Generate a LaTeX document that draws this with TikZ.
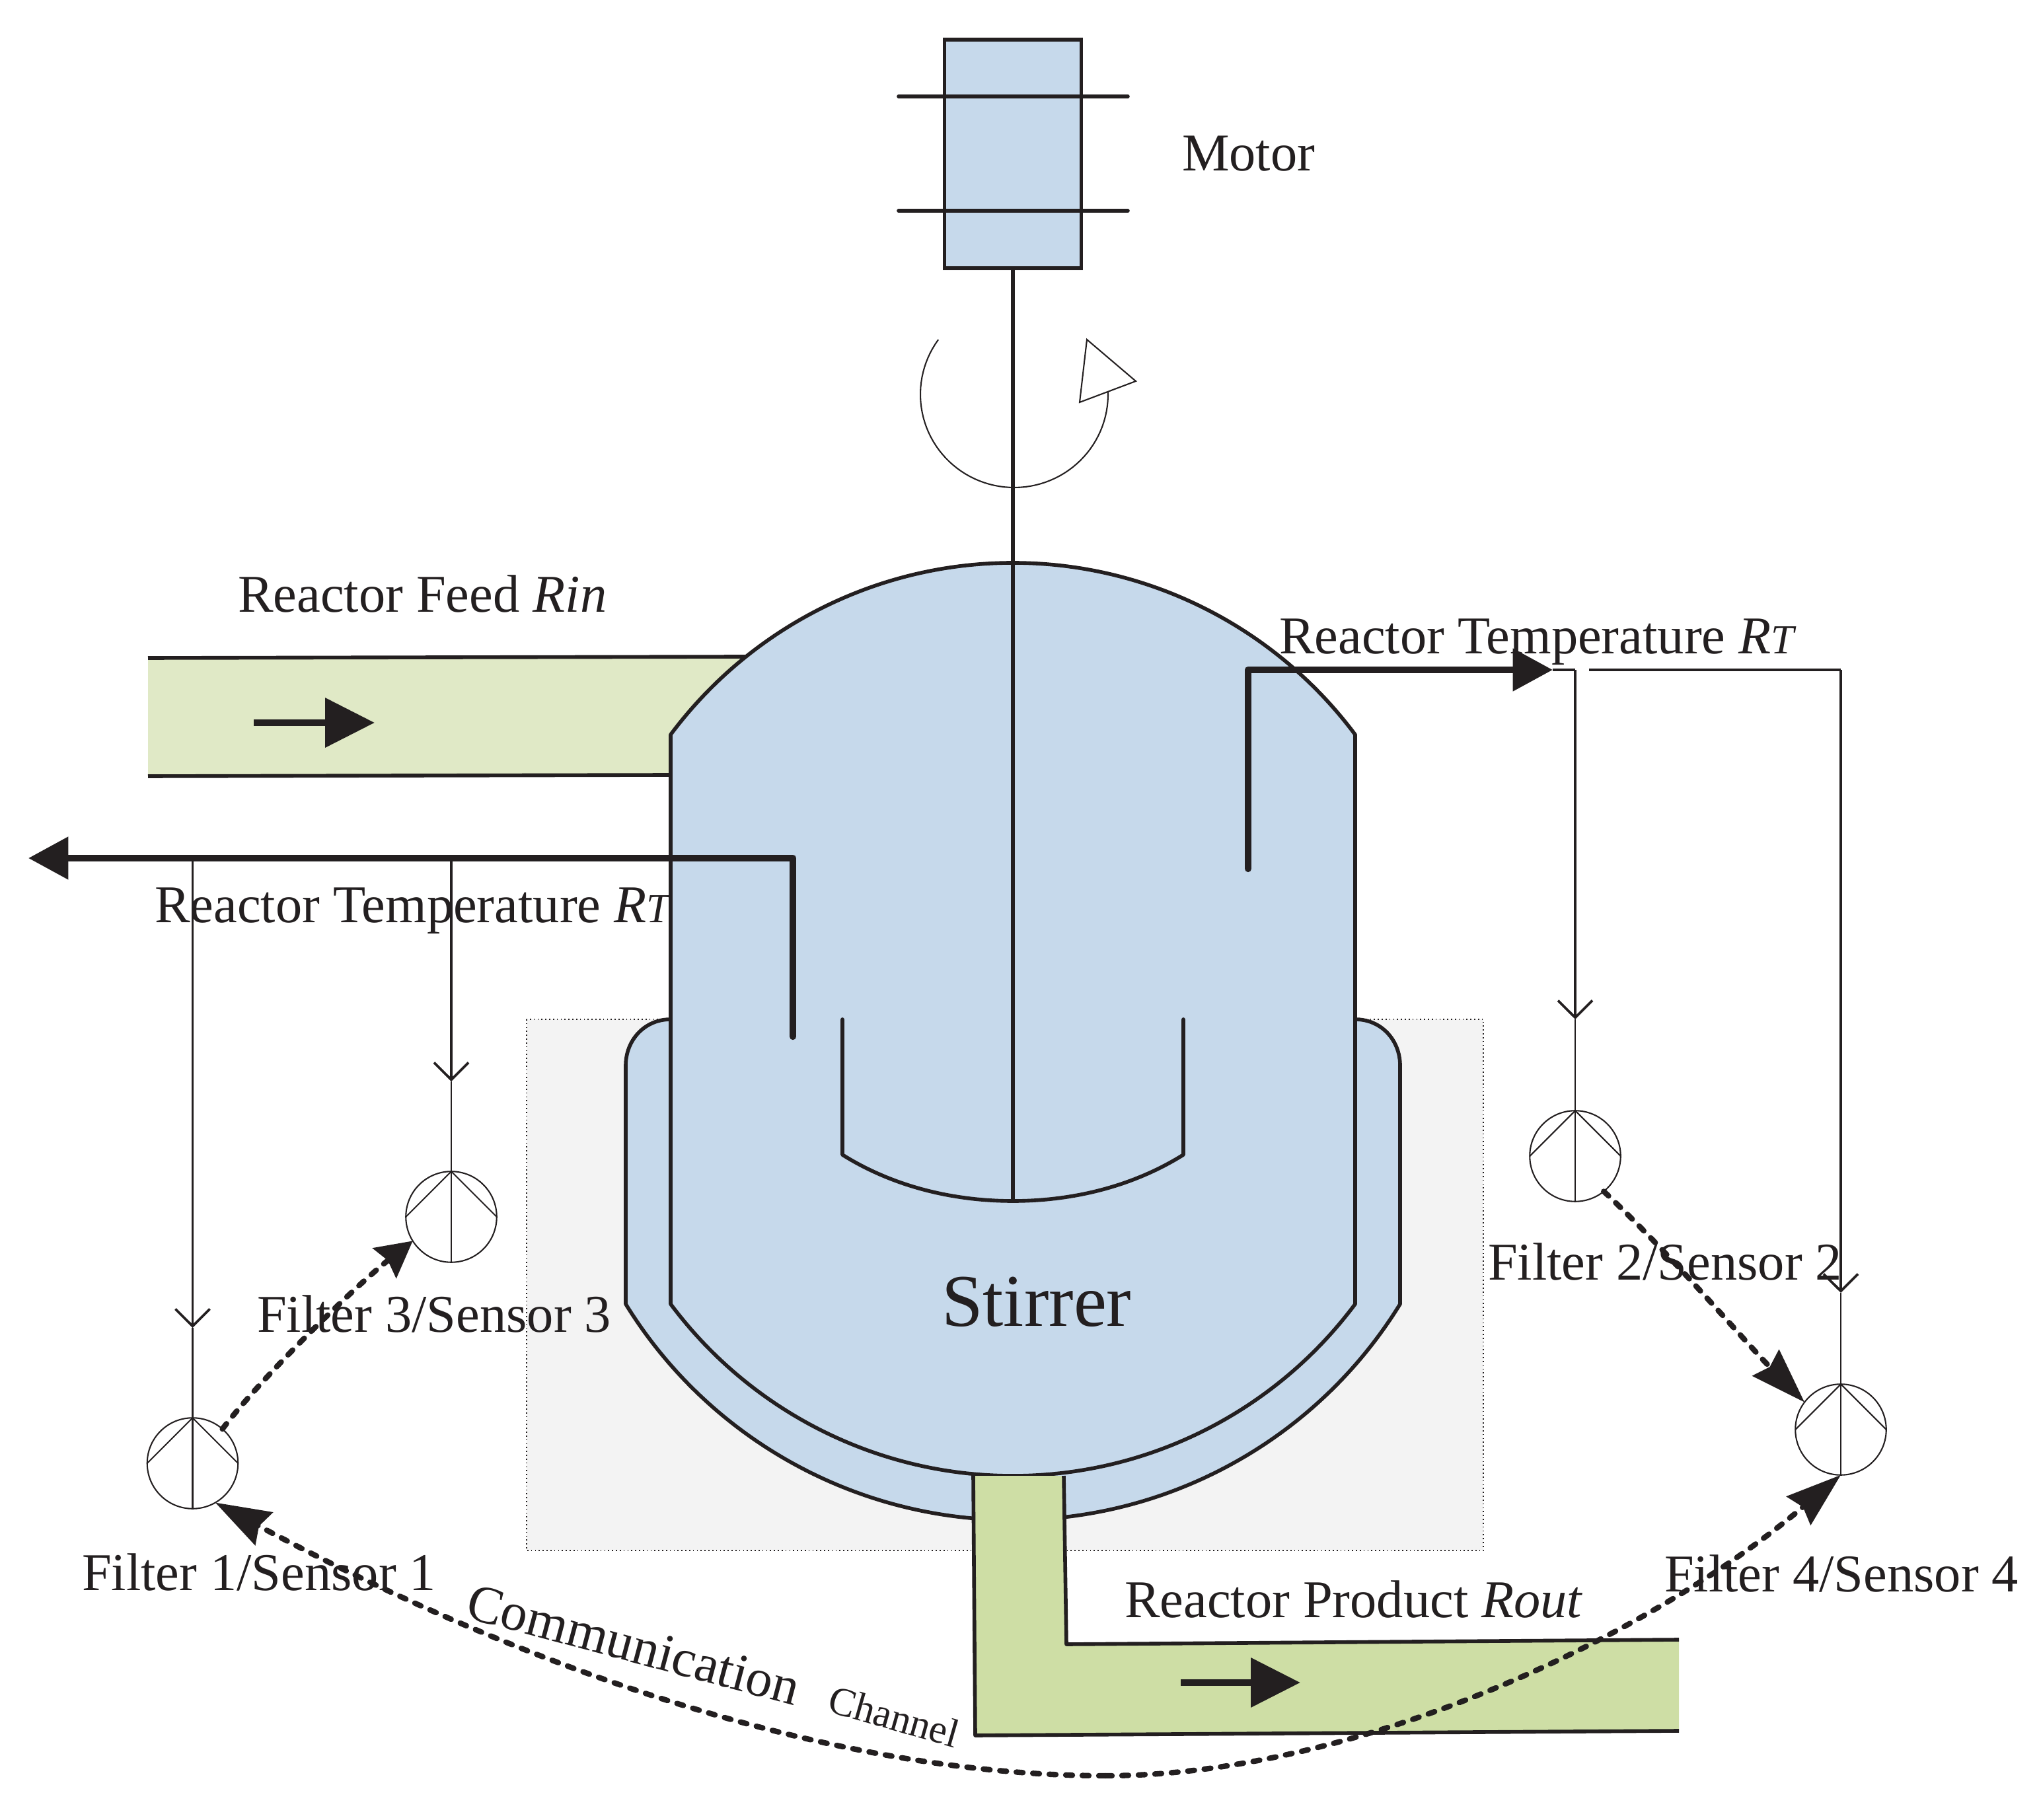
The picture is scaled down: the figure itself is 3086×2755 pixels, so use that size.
\documentclass[tikz,border=0pt]{standalone}
\usepackage{fontspec}
\setmainfont{Liberation Serif}
\usetikzlibrary{arrows.meta}
\definecolor{ink}{HTML}{231F20}
\definecolor{vesselblue}{HTML}{C6D9EB}
\definecolor{feedgreen}{HTML}{E0E9C6}
\definecolor{prodgreen}{HTML}{CEDEA5}
\definecolor{boxgrey}{HTML}{F3F3F3}
\tikzset{
  x=0.24pt, y=-0.24pt,
  every path/.style={line join=miter},
  wall/.style={draw=ink,line width=1.35pt,line join=round,line cap=round},
  fine/.style={draw=ink,line width=0.5pt},
  signal/.style={draw=ink,line width=0.9pt,-{Straight Barb[length=6.2pt,width=12.5pt,line width=0.9pt]}},
  thick arrow/.style={draw=ink,line width=2.5pt,line cap=round,-{Triangle[length=14.5pt,width=15pt]}},
  flow arrow/.style={draw=ink,line width=2.6pt,-{Triangle[length=18pt,width=17.5pt]}},
  sensor/.style={circle,draw=ink,line width=0.5pt,minimum size=33pt,inner sep=0pt,outer sep=0pt},
  link/.style={draw=ink,line width=2pt,dash pattern=on 2.4pt off 3.6pt,line cap=round},
  short head/.style={-{Stealth[length=13pt,width=13.7pt,inset=1.5pt]}},
  long head/.style={-{Stealth[length=20pt,width=13.4pt,inset=2pt]}},
  label/.style={anchor=base west,inner sep=0pt,outer sep=0pt,text=ink,font=\fontsize{19.3}{22}\selectfont},
}
\newcommand{\smallT}{{\fontsize{15}{15}\selectfont\textit{T}}}
\begin{document}
\begin{tikzpicture}
\useasboundingbox (0,0) rectangle (3086,2755);
% base plate
\draw[fill=boxgrey,draw=ink,line width=0.4pt,densely dotted] (797,1543) rectangle (2245,2347);
% feed pipe
\fill[feedgreen] (224,996) -- (1128,994) -- (1100,1174) -- (224,1175) -- cycle;
\draw[wall,line cap=butt] (224,996) -- (1128,994);
\draw[wall,line cap=butt] (224,1175) -- (1015,1173);
% jacket
\path[fill=vesselblue,wall] (1015,1543) .. controls (975,1543) and (947,1575) .. (947,1613)
  -- (947,1974) .. controls (1072,2177) and (1294,2301) .. (1533,2301)
  .. controls (1772,2301) and (1994,2177) .. (2119,1974)
  -- (2119,1613) .. controls (2119,1575) and (2091,1543) .. (2051,1543) -- cycle;
% vessel
\path[fill=vesselblue,wall] (1015,1974) -- (1015,1112)
  .. controls (1137,948.5) and (1329,852) .. (1533,852)
  .. controls (1737,852) and (1929,948.5) .. (2051,1112)
  -- (2051,1974)
  .. controls (1929,2137.5) and (1737,2234) .. (1533,2234)
  .. controls (1329,2234) and (1137,2137.5) .. (1015,1974) -- cycle;
% product pipe
\fill[prodgreen] (1473,2234) -- (1610,2234) -- (1614,2489) -- (2541,2482) -- (2541,2620) -- (1476,2627) -- cycle;
\draw[wall,line cap=butt] (1473,2234) -- (1476,2627) -- (2541,2620);
\draw[wall,line cap=butt] (1610,2234) -- (1614,2489) -- (2541,2482);
% motor
\node[draw=ink,fill=vesselblue,line width=1.35pt,minimum width=49.7pt,minimum height=83pt,inner sep=0pt,outer sep=0pt] (motor) at (1533,233) {};
\draw[wall] (1360,146) -- (1707,146);
\draw[wall] (1360,319) -- (1707,319);
\coordinate (hub) at (1533,1818);
\draw[wall] (motor.south) -- (hub);
% stirrer blade
\draw[wall] (1275,1543) -- (1275,1748) .. controls (1350,1795) and (1440,1818) .. (hub)
  .. controls (1626,1818) and (1716,1795) .. (1791,1748) -- (1791,1543);
% rotation mark
\draw[fine] plot[domain=216:-2,samples=70] ({1535+142*cos(\x)},{597+141*sin(\x)});
\draw[fine,fill=white] (1645,514) -- (1719,577) -- (1634,609) -- cycle;
% sensors
\node[sensor] (s1) at (291.5,2215) {};
\node[sensor] (s2) at (2384,1750) {};
\node[sensor] (s3) at (683,1842) {};
\node[sensor] (s4) at (2786,2164) {};
\foreach \s in {s1,s2,s3,s4}{
  \draw[fine] (\s.west) -- (\s.north) -- (\s.east);
  \draw[fine] (\s.north) -- (\s.south);
}
% temperature lines
\coordinate (leftIn) at (1200,1569);
\coordinate (leftBend) at (1200,1299);
\coordinate (leftEnd) at (43,1299);
\coordinate (rightIn) at (1889,1315);
\coordinate (rightBend) at (1889,1014);
\coordinate (rightEnd) at (2350,1014);
\coordinate (tap1) at (291.5,1299);
\coordinate (tap3) at (683,1299);
\coordinate (tap2) at (2384,1014);
\coordinate (tap4start) at (2405,1014);
\coordinate (tap4) at (2786,1014);
\coordinate (tip1) at (291.5,2010);
\coordinate (tip3) at (683,1637);
\coordinate (tip2) at (2384,1543);
\coordinate (tip4) at (2786,1957);
\draw[signal] (tap1) -- (tip1);
\draw[signal] (tap3) -- (tip3);
\draw[fine,line width=0.9pt] (rightEnd) -- (tap2);
\draw[signal] (tap2) -- (tip2);
\draw[fine,line width=0.9pt] (tap4start) -- (tap4);
\draw[signal] (tap4) -- (tip4);
\draw[fine] (tip1) -- (s1.north);
\draw[fine] (tip3) -- (s3.north);
\draw[fine] (tip2) -- (s2.north);
\draw[fine] (tip4) -- (s4.north);
\draw[thick arrow,line join=round] (leftIn) -- (leftBend) -- (leftEnd);
\draw[thick arrow,line join=round] (rightIn) -- (rightBend) -- (rightEnd);
% flow arrows
\coordinate (feedA) at (384,1094);
\coordinate (feedB) at (567,1094);
\coordinate (prodA) at (1787,2547);
\coordinate (prodB) at (1968,2547);
\draw[flow arrow] (feedA) -- (feedB);
\draw[flow arrow] (prodA) -- (prodB);
% communication links
\draw[link,short head] (s1.49) .. controls (400,2080) and (540,1945) .. (s3.212);
\draw[link,long head] (s2.-51) .. controls (2530,1900) and (2640,2030) .. (s4.143);
\coordinate (low) at (1673,2688);
\draw[link,long head] (low) .. controls (1250,2688) and (777,2517) .. (s1.-60);
\draw[link,long head] (low) .. controls (2050,2688) and (2494,2480) .. (s4.south);
% labels
\node[label] (lmotor) at (1789,259) {Motor};
\node[label] (lfeed) at (360,927) {Reactor Feed \textit{Rin}};
\node[label] (ltr) at (1936,990) {Reactor Temperature \textit{R}\smallT};
\node[label] (ltl) at (234,1397) {Reactor Temperature \textit{R}\smallT};
\node[label] (lf3) at (389,2016) {Filter 3/Sensor 3};
\node[label] (lf1) at (124,2407) {Filter 1/Sensor 1};
\node[label] (lf2) at (2252,1937) {Filter 2/Sensor 2};
\node[label] (lf4) at (2519,2409) {Filter 4/Sensor 4};
\node[label] (lprod) at (1702,2448) {Reactor Product \textit{Rout}};
\node[label,font=\fontsize{27}{30}\selectfont] (lstir) at (1425,2007) {Stirrer};
\node[label,rotate=-15] (lcomm) at (702,2448) {Communication};
\node[label,rotate=-16,font=\fontsize{14.6}{17}\selectfont] (lchan) at (1250,2590) {Channel};
\end{tikzpicture}
\end{document}
